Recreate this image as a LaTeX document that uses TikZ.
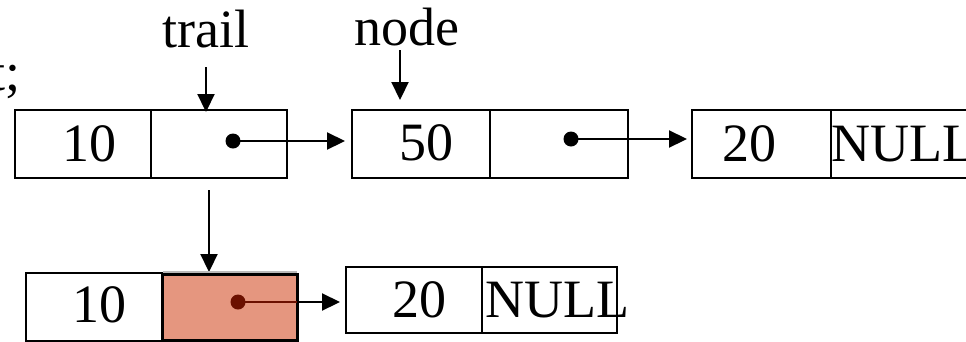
\documentclass[tikz,border=0pt]{standalone}
\usepackage{fontspec}
\setmainfont{Liberation Serif}
\usetikzlibrary{arrows.meta}
\definecolor{cellred}{HTML}{E5967F}
\definecolor{dotred}{HTML}{6B1000}
\begin{document}
\begin{tikzpicture}[x=1pt,y=-1pt,
  cell/.style={draw=black,line width=2pt,minimum width=#1,minimum height=68pt,inner sep=0pt,outer sep=0pt,anchor=north west},
  lbl/.style={inner sep=0pt,font=\fontsize{54}{60}\selectfont},
  dot/.style={circle,fill=#1,inner sep=0pt,minimum size=15pt},
  dot/.default=black,
  ptr/.style={line width=2.2pt,-{Triangle[length=18pt,width=17pt]}}
]
\useasboundingbox (0,0) rectangle (966,341);
% fragment at left edge
\node[lbl,anchor=base east] (frag) at (21,90) {t;};
% top row
\node[cell=136pt] (a1) at (15,110) {};
\node[cell=136pt] (a2) at (151,110) {};
\node[cell=138pt] (b1) at (352,110) {};
\node[cell=138pt] (b2) at (490,110) {};
\node[cell=139pt] (c1) at (692,110) {};
\node[cell=160pt] (c2) at (831,110) {};
\node[lbl,anchor=base] (t10) at (89,161) {10};
\node[lbl,anchor=base] (t50) at (426,160) {50};
\node[lbl,anchor=base] (t20) at (749,161) {20};
\node[lbl,anchor=base west] (tnull) at (831,161) {NULL};
\node[dot] (d1) at (233,141) {};
\node[dot] (d2) at (571,139) {};
\draw[ptr,shorten >=7pt] (d1.center) -- (d1.center -| b1.west);
\draw[ptr,shorten >=5pt] (d2.center) -- (d2.center -| c1.west);
% labels
\node[lbl,anchor=base] (trail) at (206,47) {trail};
\node[lbl,anchor=base] (nodelbl) at (407,45) {node};
\coordinate (ta) at (206,67);
\coordinate (tb) at (206,112);
\coordinate (na) at (400,50);
\coordinate (nb) at (400,100);
\draw[ptr] (ta) -- (tb);
\draw[ptr] (na) -- (nb);
% middle arrow
\coordinate (ma) at (209,190);
\coordinate (mb) at (209,272);
\draw[ptr] (ma) -- (mb);
% bottom row
\node[cell=136pt] (e1) at (26,273) {};
\draw[gray!55,line width=2pt] (163,272) -- (297,272);
\node[cell=135pt,fill=cellred,line width=3pt,minimum height=66pt] (e2) at (162,274) {};
\node[cell=136pt,minimum height=66pt] (f1) at (346,267) {};
\node[cell=135pt,minimum height=66pt] (f2) at (482,267) {};
\node[lbl,anchor=base] (b10) at (99,322) {10};
\node[lbl,anchor=base] (b20) at (419,317) {20};
\node[lbl,anchor=base west] (bnull) at (485,317) {NULL};
\node[dot=dotred] (d3) at (238,302) {};
\draw[dotred,line width=2.2pt] (d3.center) -- (d3.center -| e2.east);
\draw[ptr,shorten >=6pt] (d3.center -| e2.east) -- (d3.center -| f1.west);
\end{tikzpicture}
\end{document}
